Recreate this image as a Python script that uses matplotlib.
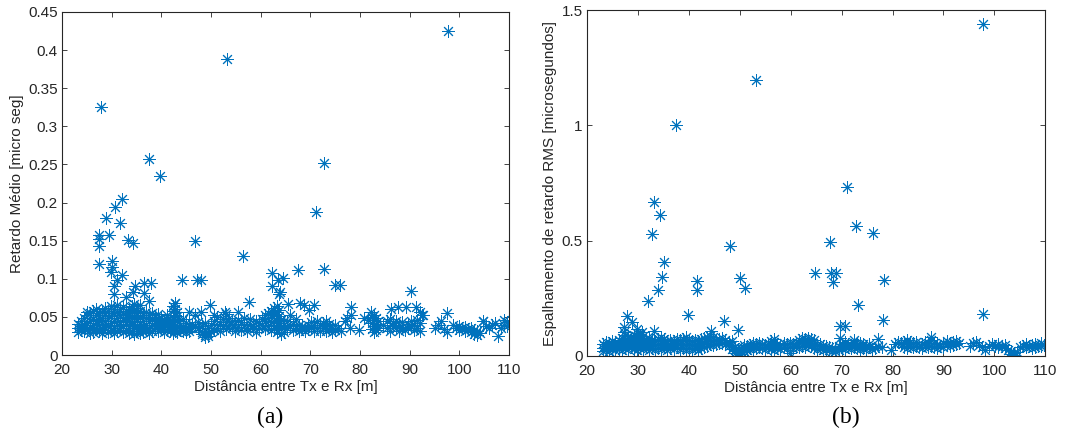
import matplotlib
matplotlib.use("Agg")
import matplotlib.pyplot as plt

# dados (a) - retardo médio
x_ticks = [20, 30, 40, 50, 60, 70, 80, 90, 100, 110]
a_y_ticks = [0, 0.05, 0.1, 0.15, 0.2, 0.25, 0.3, 0.35, 0.4, 0.45]
a_y_labels = ["0", "0.05", "0.1", "0.15", "0.2", "0.25", "0.3", "0.35", "0.4", "0.45"]
b_y_ticks = [0, 0.5, 1, 1.5]
b_y_labels = ["0", "0.5", "1", "1.5"]

# faixa densa do gráfico (a): (distância, [retardos])
a_band = [
    (23.2, [0.030, 0.036, 0.041]), (23.8, [0.033, 0.038, 0.044]),
    (24.5, [0.031, 0.035, 0.040, 0.048]), (25.1, [0.034, 0.042, 0.052, 0.057]),
    (25.7, [0.029, 0.037, 0.045, 0.055]), (26.3, [0.030, 0.033, 0.040, 0.047, 0.058]),
    (26.9, [0.036, 0.044, 0.052, 0.060]), (27.4, [0.031, 0.039, 0.046, 0.055]),
    (28.0, [0.029, 0.034, 0.041, 0.049, 0.057]), (28.6, [0.037, 0.045, 0.053, 0.062]),
    (29.2, [0.030, 0.038, 0.048, 0.058]), (29.8, [0.033, 0.042, 0.051, 0.064]),
    (30.4, [0.029, 0.036, 0.044, 0.055, 0.061]), (31.0, [0.032, 0.040, 0.049, 0.057, 0.066]),
    (31.6, [0.035, 0.043, 0.052, 0.060]), (32.2, [0.030, 0.038, 0.046, 0.054, 0.063]),
    (32.8, [0.033, 0.041, 0.050, 0.058]), (33.4, [0.029, 0.036, 0.045, 0.053, 0.061]),
    (34.0, [0.032, 0.040, 0.048, 0.056, 0.064]), (34.6, [0.028, 0.035, 0.043, 0.051, 0.059, 0.067]),
    (35.2, [0.031, 0.038, 0.047, 0.055, 0.062]), (35.8, [0.029, 0.034, 0.041, 0.050, 0.058, 0.065]),
    (36.4, [0.030, 0.037, 0.045, 0.053]), (37.0, [0.033, 0.040, 0.048, 0.057]),
    (37.6, [0.029, 0.036, 0.044, 0.052]), (38.2, [0.032, 0.039, 0.047, 0.055]),
    (38.8, [0.035, 0.042, 0.050]), (39.4, [0.031, 0.038, 0.046, 0.054]),
    (40.0, [0.034, 0.041, 0.049]), (40.6, [0.030, 0.037, 0.044]),
    (41.2, [0.033, 0.040, 0.047, 0.053]), (41.8, [0.031, 0.038, 0.045]),
    (42.4, [0.029, 0.036, 0.043, 0.050, 0.058, 0.064]), (42.8, [0.032, 0.039, 0.046, 0.053, 0.060, 0.068]),
    (43.2, [0.030, 0.037, 0.044, 0.051, 0.057]), (43.8, [0.033, 0.040]),
    (44.4, [0.031, 0.038, 0.047]), (45.0, [0.030, 0.034, 0.042]),
    (45.6, [0.032, 0.036]), (46.2, [0.035, 0.041]), (46.8, [0.038, 0.052]),
    (47.4, [0.036, 0.043]), (48.2, [0.027, 0.030, 0.038]), (48.8, [0.026, 0.031, 0.042]),
    (49.4, [0.025, 0.029, 0.035]), (50.0, [0.030, 0.040]), (50.6, [0.033, 0.045, 0.052]),
    (51.2, [0.036, 0.050]), (51.8, [0.031, 0.041]), (52.4, [0.038, 0.047]),
    (53.0, [0.034, 0.043, 0.054]), (53.6, [0.040, 0.048]), (54.2, [0.036, 0.044]),
    (54.8, [0.032, 0.041]), (55.4, [0.037, 0.046]), (56.0, [0.033, 0.043]),
    (56.6, [0.039, 0.049]), (57.2, [0.032, 0.036]), (57.8, [0.041, 0.047]),
    (58.4, [0.034, 0.038]), (59.0, [0.030, 0.044]), (59.6, [0.036, 0.042]),
    (60.2, [0.040, 0.047]), (60.8, [0.034, 0.044, 0.052]), (61.4, [0.038, 0.048, 0.055]),
    (62.0, [0.033, 0.043, 0.052, 0.058]), (62.6, [0.036, 0.045, 0.054, 0.062]),
    (63.2, [0.030, 0.039, 0.048, 0.056, 0.064]), (63.6, [0.034, 0.042, 0.051, 0.059]),
    (64.2, [0.027, 0.037, 0.046]), (64.8, [0.030, 0.040]), (65.4, [0.035, 0.045]),
    (66.0, [0.038, 0.052]), (66.6, [0.033, 0.041]), (67.2, [0.036, 0.047]),
    (67.8, [0.031, 0.040]), (68.4, [0.034, 0.038]), (69.0, [0.031, 0.036]),
    (69.6, [0.034, 0.040]), (70.2, [0.037, 0.043]), (70.8, [0.032, 0.040]),
    (71.4, [0.036, 0.044]), (72.0, [0.031, 0.039]), (72.6, [0.035, 0.042]),
    (73.2, [0.031, 0.038, 0.045]), (73.8, [0.034, 0.041]), (74.4, [0.030, 0.036]),
    (75.0, [0.033, 0.039]), (75.6, [0.035]), (76.2, [0.031]), (77.0, [0.045]),
    (78.0, [0.035]), (79.8, [0.033]), (80.8, [0.048]), (81.6, [0.046]),
    (82.4, [0.034, 0.042, 0.050]), (82.8, [0.030, 0.038, 0.046, 0.053]),
    (83.2, [0.033, 0.041, 0.048]), (83.6, [0.036, 0.044]), (84.6, [0.040]),
    (85.4, [0.036, 0.044]), (86.0, [0.032, 0.047]), (86.6, [0.038, 0.042]),
    (87.2, [0.035, 0.045]), (87.8, [0.031, 0.040]), (88.4, [0.037, 0.043]),
    (89.0, [0.033]), (89.6, [0.036, 0.041]), (90.2, [0.038, 0.044]),
    (90.8, [0.033, 0.040]), (91.4, [0.036, 0.046]), (92.0, [0.031, 0.042]),
    (92.6, [0.052]), (95.2, [0.036]), (95.8, [0.040]), (96.4, [0.045]),
    (97.0, [0.034]), (97.6, [0.030]), (98.8, [0.040]), (99.4, [0.036]),
    (100.0, [0.033, 0.038]), (100.6, [0.035]), (101.2, [0.032, 0.037]),
    (101.8, [0.034]), (102.4, [0.030, 0.036]), (103.0, [0.027, 0.033]),
    (103.6, [0.026, 0.031]), (104.2, [0.029]), (104.8, [0.045]), (105.4, [0.038]),
    (106.0, [0.035]), (106.6, [0.039]), (107.2, [0.042]), (107.8, [0.025]),
    (108.4, [0.036]), (109.0, [0.040, 0.046]), (109.6, [0.038, 0.043]),
]

# pontos isolados do gráfico (a)
a_out_x = [97.8, 53.3, 27.8, 37.5, 39.8, 72.7, 71.2, 32.0, 30.7, 28.9, 31.7,
           27.5, 27.5, 27.5, 29.5, 33.2, 34.3, 46.8, 56.5, 27.5, 30.1, 30.1,
           29.8, 32.1, 31.1, 30.5, 30.5, 44.2, 47.2, 48.0, 34.8, 36.6, 37.9,
           32.9, 34.3, 36.6, 37.5, 57.6, 62.3, 64.5, 63.4, 63.9, 63.6, 62.3,
           67.6, 72.7, 74.9, 75.9, 90.3, 49.9, 42.7, 45.5, 47.9, 52.9, 55.5,
           65.6, 67.9, 68.8, 69.7, 70.7, 78.2, 78.2, 77.4, 82.3, 86.3, 87.6,
           89.2, 91.3, 92.5, 92.1, 97.5, 104.8, 48.7, 47.6]
a_out_y = [0.425, 0.388, 0.326, 0.257, 0.235, 0.252, 0.187, 0.205, 0.194, 0.180, 0.173,
           0.158, 0.152, 0.143, 0.157, 0.151, 0.147, 0.150, 0.130, 0.119, 0.123, 0.116,
           0.109, 0.105, 0.098, 0.090, 0.080, 0.098, 0.098, 0.098, 0.091, 0.094, 0.094,
           0.076, 0.083, 0.081, 0.071, 0.069, 0.108, 0.101, 0.098, 0.083, 0.080, 0.090,
           0.111, 0.113, 0.092, 0.092, 0.084, 0.066, 0.068, 0.057, 0.057, 0.056, 0.056,
           0.067, 0.068, 0.066, 0.059, 0.066, 0.063, 0.052, 0.048, 0.057, 0.061, 0.063,
           0.063, 0.063, 0.052, 0.057, 0.055, 0.044, 0.024, 0.035]

# faixa densa do gráfico (b) - espalhamento RMS
b_band = [
    (23.2, [0.020, 0.035, 0.050]), (23.8, [0.028, 0.045, 0.060]),
    (24.4, [0.022, 0.038, 0.055]), (25.0, [0.030, 0.048, 0.065]),
    (25.6, [0.025, 0.040, 0.058]), (26.2, [0.032, 0.050, 0.068]),
    (26.8, [0.027, 0.044, 0.062, 0.080]), (27.4, [0.035, 0.055, 0.075, 0.092]),
    (28.0, [0.030, 0.048, 0.066, 0.085]), (28.6, [0.038, 0.058, 0.078]),
    (29.2, [0.032, 0.050, 0.070, 0.090]), (29.8, [0.028, 0.045, 0.063, 0.082, 0.100]),
    (30.4, [0.035, 0.055, 0.073, 0.092]), (31.0, [0.030, 0.048, 0.067, 0.085]),
    (31.6, [0.038, 0.057, 0.075]), (32.2, [0.026, 0.044, 0.062, 0.080]),
    (32.8, [0.033, 0.051, 0.069]), (33.4, [0.029, 0.047, 0.065]),
    (34.0, [0.035, 0.053, 0.072]), (34.6, [0.030, 0.048, 0.066, 0.083]),
    (35.2, [0.037, 0.055, 0.073]), (35.8, [0.027, 0.045, 0.063]),
    (36.4, [0.034, 0.052, 0.070]), (37.0, [0.030, 0.048, 0.066]),
    (37.6, [0.038, 0.056, 0.074]), (38.2, [0.032, 0.050, 0.068]),
    (38.8, [0.036, 0.054, 0.072]), (39.4, [0.030, 0.047, 0.065, 0.082]),
    (40.0, [0.035, 0.053, 0.071]), (40.6, [0.029, 0.046, 0.064]),
    (41.2, [0.034, 0.052, 0.070]), (41.8, [0.028, 0.045, 0.063]),
    (42.4, [0.036, 0.054, 0.072]), (43.0, [0.040, 0.058, 0.076]),
    (43.6, [0.045, 0.063, 0.082]), (44.2, [0.050, 0.068, 0.086]),
    (44.8, [0.047, 0.065, 0.083]), (45.4, [0.052, 0.070]), (46.0, [0.056, 0.074]),
    (46.6, [0.058, 0.076]), (47.2, [0.050, 0.068]), (47.8, [0.042, 0.060]),
    (48.4, [0.030, 0.048, 0.066]), (49.0, [0.012, 0.025, 0.040]),
    (49.6, [0.002, 0.015, 0.030]), (50.2, [0.010, 0.022, 0.036]),
    (50.8, [0.020, 0.034, 0.048]), (51.4, [0.027, 0.042]), (52.0, [0.033, 0.049]),
    (52.6, [0.030, 0.045, 0.058]), (53.2, [0.036, 0.052]), (53.8, [0.040, 0.056]),
    (54.4, [0.035, 0.050]), (55.0, [0.030, 0.046]), (55.6, [0.038, 0.054]),
    (56.2, [0.032, 0.048, 0.064]), (56.8, [0.027, 0.043, 0.060, 0.075]),
    (57.4, [0.035, 0.052]), (58.0, [0.030, 0.046]), (58.6, [0.038, 0.055]),
    (59.2, [0.033, 0.050]), (59.8, [0.015, 0.040, 0.056]), (60.4, [0.036, 0.052]),
    (61.0, [0.042, 0.058]), (61.6, [0.038, 0.055, 0.070]), (62.2, [0.045, 0.062, 0.078]),
    (62.8, [0.040, 0.057, 0.073]), (63.4, [0.047, 0.064, 0.080]),
    (64.0, [0.042, 0.058, 0.075]), (64.6, [0.036, 0.052, 0.068]),
    (65.2, [0.030, 0.046]), (65.8, [0.035, 0.050]), (66.4, [0.028, 0.042]),
    (67.0, [0.032, 0.045]), (67.6, [0.026, 0.038]), (68.2, [0.022, 0.035]),
    (68.8, [0.020, 0.030]), (69.4, [0.028, 0.042]), (70.0, [0.035, 0.050]),
    (70.6, [0.030, 0.045, 0.060]), (71.2, [0.038, 0.052]), (71.8, [0.033, 0.048]),
    (72.4, [0.040, 0.055, 0.068]), (73.0, [0.035, 0.050]), (73.6, [0.030, 0.045, 0.058]),
    (74.2, [0.036, 0.052]), (74.8, [0.030, 0.044]), (75.4, [0.038, 0.050]),
    (76.0, [0.032]), (76.6, [0.036]), (77.2, [0.045]), (78.0, [0.040]),
    (79.6, [0.028]), (80.4, [0.050]), (81.0, [0.062]), (81.6, [0.055]),
    (82.2, [0.040, 0.060]), (82.8, [0.035, 0.052, 0.070]), (83.4, [0.042, 0.060]),
    (84.0, [0.038, 0.055]), (84.6, [0.045, 0.060]), (85.2, [0.040]),
    (85.8, [0.035, 0.052]), (86.4, [0.048, 0.062]), (87.0, [0.038, 0.055]),
    (87.6, [0.045, 0.068]), (88.2, [0.040, 0.056]), (88.8, [0.034, 0.050]),
    (89.4, [0.045]), (90.0, [0.038, 0.055]), (90.6, [0.050, 0.065]),
    (91.2, [0.042, 0.058]), (91.8, [0.048, 0.062]), (92.4, [0.052, 0.066]),
    (93.0, [0.056]), (95.2, [0.045]), (95.8, [0.055]), (96.4, [0.060]),
    (97.0, [0.048]), (97.6, [0.040]), (98.2, [0.025]), (99.0, [0.042]),
    (99.6, [0.050]), (100.2, [0.045]), (100.8, [0.038, 0.050]), (101.4, [0.042]),
    (102.0, [0.035, 0.048]), (102.6, [0.028]), (103.2, [0.010, 0.020]),
    (103.8, [0.005, 0.015]), (104.4, [0.018]), (105.0, [0.040]), (105.6, [0.045]),
    (106.2, [0.038, 0.050]), (106.8, [0.042]), (107.4, [0.035, 0.048]),
    (108.0, [0.040, 0.052]), (108.6, [0.045]), (109.2, [0.042, 0.055]), (109.8, [0.048]),
]

b_out_x = [97.7, 53.2, 37.4, 71.0, 33.2, 34.3, 32.8, 35.2, 34.7, 34.0, 32.0,
           41.7, 41.7, 48.1, 50.0, 51.0, 39.8, 46.9, 49.6, 44.3, 33.1, 27.8,
           28.9, 27.3, 27.3, 29.9, 30.8, 67.7, 72.8, 76.1, 64.7, 68.0, 68.9,
           68.4, 78.3, 73.2, 69.7, 70.7, 78.1, 97.8, 69.6, 77.2, 87.6]
b_out_y = [1.439, 1.197, 1.001, 0.734, 0.666, 0.613, 0.529, 0.406, 0.344, 0.286, 0.238,
           0.325, 0.288, 0.477, 0.337, 0.296, 0.179, 0.152, 0.113, 0.107, 0.107, 0.175,
           0.149, 0.127, 0.105, 0.118, 0.106, 0.496, 0.565, 0.532, 0.358, 0.362, 0.362,
           0.319, 0.330, 0.221, 0.131, 0.131, 0.156, 0.180, 0.080, 0.073, 0.082]


def flatten(band):
    xs, ys = [], []
    for x, vals in band:
        for v in vals:
            xs.append(x)
            ys.append(v)
    return xs, ys


plt.rcParams['font.family'] = ['Liberation Sans', 'DejaVu Sans']
cor = '#0072BD'
cinza = '#262626'
estrela = (8, 2, 0)

fig = plt.figure(figsize=(10.76, 4.30), dpi=100)
ax1 = fig.add_axes([0.0576, 0.1744, 0.4154, 0.7977])
ax2 = fig.add_axes([0.5455, 0.1721, 0.4260, 0.8046])


def estilo(ax, yticks, ylabels, ymax, ylabel):
    ax.set_xlim(20, 110)
    ax.set_ylim(0, ymax)
    ax.set_xticks(x_ticks)
    ax.set_yticks(yticks)
    ax.set_yticklabels(ylabels)
    ax.tick_params(direction='in', length=3.5, width=0.6, top=True, right=True,
                   labelsize=11, colors=cinza)
    ax.tick_params(axis='x', pad=6)
    ax.tick_params(axis='y', pad=3)
    for s in ax.spines.values():
        s.set_color(cinza)
        s.set_linewidth(0.8)
    ax.set_xlabel('Distância entre Tx e Rx [m]', fontsize=11, color=cinza, labelpad=2)
    ax.set_ylabel(ylabel, fontsize=11, color=cinza, labelpad=3)


bx, by = flatten(a_band)
ax1.plot(bx, by, linestyle='none', marker=estrela, ms=9, mew=0.7, color=cor)
ax1.plot(a_out_x, a_out_y, linestyle='none', marker=estrela, ms=9, mew=0.7, color=cor)
estilo(ax1, a_y_ticks, a_y_labels, 0.45, 'Retardo Médio [micro seg]')

bx, by = flatten(b_band)
ax2.plot(bx, by, linestyle='none', marker=estrela, ms=9, mew=0.7, color=cor)
ax2.plot(b_out_x, b_out_y, linestyle='none', marker=estrela, ms=9, mew=0.7, color=cor)
estilo(ax2, b_y_ticks, b_y_labels, 1.5, 'Espalhamento de retardo RMS [microsegundos]')

fig.text(270 / 1076, 1 - 417 / 430, '(a)', ha='center', va='center', fontsize=17,
         family=['Liberation Serif', 'DejaVu Serif'], color='black')
fig.text(846 / 1076, 1 - 417 / 430, '(b)', ha='center', va='center', fontsize=17,
         family=['Liberation Serif', 'DejaVu Serif'], color='black')

fig.savefig('out.png', dpi=100)
